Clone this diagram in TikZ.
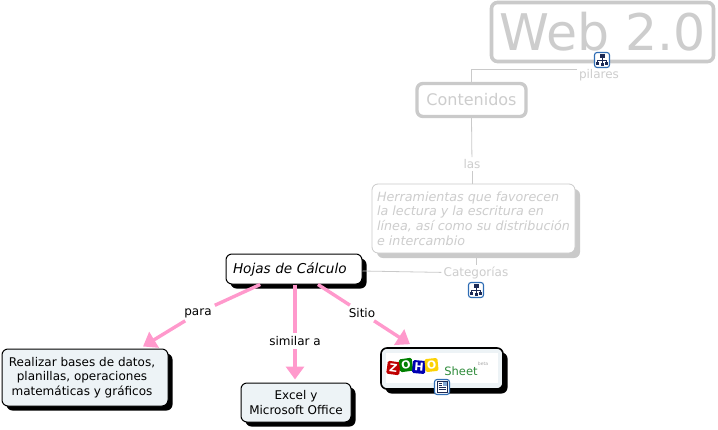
\documentclass[tikz,border=0pt]{standalone}
\usepackage{fontspec}
\setmainfont{DejaVu Sans}
\usetikzlibrary{arrows.meta,shadows,calc}
\definecolor{ghost}{HTML}{CACACA}
\definecolor{ghosttext}{HTML}{CDCDCD}
\definecolor{pinkline}{HTML}{FF99CC}
\definecolor{paleblue}{HTML}{EDF3F6}
\definecolor{iconblue}{HTML}{2F6DB5}
\definecolor{glyph}{HTML}{1C2A55}
\definecolor{sheetgreen}{HTML}{2E8B3A}
\tikzset{
  x=1pt,y=-1pt,
  concept/.style={draw=black,line width=1pt,rounded corners=6pt,inner sep=0pt,align=center,text=black,font=\fontsize{12}{14.5}\selectfont,
     general shadow={shadow xshift=4.5pt,shadow yshift=-4.5pt,fill=black}},
  faded/.style={draw=ghost,rounded corners=6pt,inner sep=0pt,align=center,text=ghosttext,fill=white},
  linklabel/.style={inner sep=3pt,fill=white,text=black,font=\fontsize{12}{13}\selectfont},
  fadedlabel/.style={inner sep=2pt,fill=white,text=ghosttext,font=\fontsize{12}{13}\selectfont},
  fadedline/.style={draw=ghost,line width=0.8pt},
  pinkarrow/.style={draw=pinkline,line width=3.4pt,-{Triangle[length=13pt,width=18pt]}},
  pinkplain/.style={draw=pinkline,line width=3.4pt},
  iconbox/.style={draw=iconblue,line width=1.1pt,fill=white,rounded corners=2.5pt,minimum size=15pt,inner sep=0pt},
  tile/.style={minimum size=13pt,inner sep=0pt,rounded corners=1.5pt,text=white,font=\bfseries\fontsize{11}{11}\selectfont},
  pics/hier/.style={code={
    \draw[glyph,line width=.9pt] (0,-2.5)--(0,3) (-4.5,3)--(-4.5,0)--(4.5,0)--(4.5,3);
    \fill[glyph] (-2.5,-6) rectangle (2.5,-2.5);
    \fill[glyph] (-6,1.5) rectangle (-3,5);
    \fill[glyph] (-1.5,2.5) rectangle (1.5,6);
    \fill[glyph] (3,1.5) rectangle (6,5);
  }},
  pics/note/.style={code={
    \fill[glyph] (-5.5,-6) rectangle (5.5,6);
    \fill[white] (-4.5,-5) rectangle (4.5,5);
    \fill[iconblue!60] (0.5,-5) rectangle (4.5,-1);
    \foreach \yy/\xe in {-3.5/0,-1.5/0,0.5/4,2.5/4}{\draw[glyph,line width=.8pt] (-3.5,\yy)--(\xe,\yy);}
  }}
}
\begin{document}
\begin{tikzpicture}
\useasboundingbox (0,0) rectangle (718,429);
% faded concepts
\node[faded,line width=3.6pt,minimum width=222pt,minimum height=59pt,font=\fontsize{50.5}{51}\selectfont] (web) at (602.5,32) {Web 2.0};
\node[faded,line width=3.4pt,minimum width=109pt,minimum height=33pt,font=\fontsize{16}{16}\selectfont] (cont) at (471.5,100) {Contenidos};
\node[faded,line width=.8pt,minimum width=203pt,minimum height=69pt,align=left,font=\itshape\fontsize{12.7}{14.7}\selectfont,
  general shadow={shadow xshift=5pt,shadow yshift=-5pt,fill=ghost}] (herr) at (473.5,218.5)
  {Herramientas que favorecen\\la lectura y la escritura en\\línea, así como su distribución\hspace*{5pt}\\e intercambio};
% faded labels
\node[fadedlabel] (pil) at (599,75) {pilares};
\node[fadedlabel] (las) at (472,164) {las};
\node[fadedlabel] (cat) at (476,273) {Categorías};
\coordinate (webend) at (577,69);
\draw[fadedline] (webend) -- (webend -| cont.north) -- (cont.north);
\draw[fadedline] (cont.south) -- (las);
\draw[fadedline] (las) -- (las |- herr.north);
\draw[fadedline] (cat.north |- herr.south) -- (cat);
% main concepts
\node[concept,fill=white,minimum width=136pt,minimum height=30pt,text width=122pt,align=left,font=\itshape\fontsize{13.6}{16}\selectfont] (hojas) at (294,269) {Hojas de Cálculo};
\draw[fadedline] ($(hojas.east)+(0,2)$) -- (cat);
\node[concept,fill=paleblue,minimum width=166pt,minimum height=57pt] (real) at (85,377.5) {\hspace*{-6pt}Realizar bases de datos,\\\hspace*{-6pt}planillas, operaciones\\\hspace*{-6pt}matemáticas y gráficos};
\node[concept,fill=paleblue,minimum width=110pt,minimum height=39pt] (excel) at (296,402.5) {Excel y\\Microsoft Office};
\node[concept,draw=black,line width=1.6pt,fill=paleblue,minimum width=122pt,minimum height=41pt] (zoho) at (442,368.5) {};
% link labels
\node[linklabel] (para) at (198,313) {para};
\node[linklabel] (sim) at (295,341) {similar a};
\node[linklabel] (sitio) at (362,313) {Sitio};
% links
\path[pinkplain] (hojas) -- (para);
\path[pinkarrow] (para) -- ($(real.north)+(58,-2)$);
\draw[pinkplain] (hojas.south -| sim) -- (sim);
\path[pinkarrow] (sim) -- ($(excel.north)+(-1,-3)$);
\path[pinkplain] (hojas) -- (sitio);
\path[pinkarrow] (sitio) -- ($(zoho.north)+(-32,-3)$);
% Zoho logo
\fill[white] (386,353) rectangle (498,383);
\node[tile,fill=red!75!black,rotate=-8] (zz) at (393.5,368) {Z};
\node[tile,fill=green!50!black,rotate=8] (zo) at (406,365) {O};
\node[tile,fill=blue!70!black,rotate=-5] (zh) at (419,367) {H};
\node[tile,fill=yellow!70!orange,rotate=6] (zp) at (431.5,365) {O};
\node[inner sep=0pt,text=sheetgreen,font=\fontsize{11.5}{12}\selectfont] (sheet) at (461,371) {Sheet};
\node[inner sep=0pt,text=black!35,font=\fontsize{4.5}{5}\selectfont] (beta) at (483,364) {beta};
% icons
\node[iconbox] (i1) at (602,60) {};
\pic at (i1.center) {hier};
\node[iconbox] (i2) at (476,290) {};
\pic at (i2.center) {hier};
\node[iconbox] (i3) at (442,387) {};
\pic at (i3.center) {note};
\end{tikzpicture}
\end{document}
